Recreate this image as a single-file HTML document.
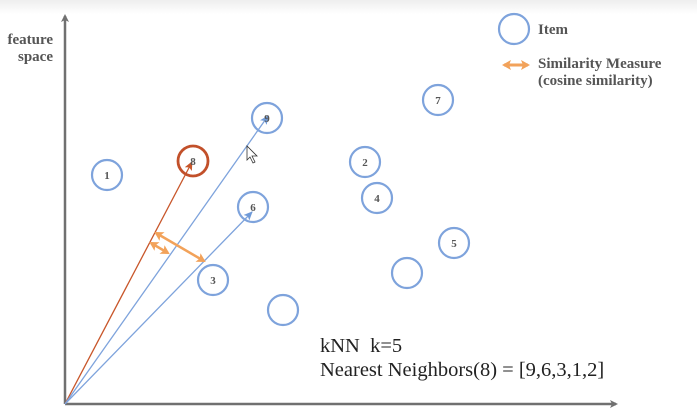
<!DOCTYPE html>
<html><head><meta charset="utf-8"><style>
html,body{margin:0;padding:0;background:#fff;}
svg{display:block;font-family:"Liberation Serif",serif;}
</style></head><body>
<svg id="chart" width="697" height="415" viewBox="0 0 697 415">
<defs>
<linearGradient id="topband" x1="0" y1="0" x2="0" y2="1"><stop offset="0" stop-color="#eeeeee"/><stop offset="1" stop-color="#ffffff"/></linearGradient>
<marker id="axArrow" markerWidth="8" markerHeight="8" refX="6" refY="4" orient="auto" markerUnits="userSpaceOnUse"><path d="M0,0 L8,4 L0,8 L2,4 Z" fill="#707070"/></marker>
<marker id="blueArrow" markerWidth="10" markerHeight="10" refX="8" refY="5" orient="auto" markerUnits="userSpaceOnUse"><path d="M0,1 L9,5 L0,9 L2,5 Z" fill="#6f9ad8"/></marker>
<marker id="redArrow" markerWidth="10" markerHeight="10" refX="8" refY="5" orient="auto" markerUnits="userSpaceOnUse"><path d="M0,1 L9,5 L0,9 L2,5 Z" fill="#c8562a"/></marker>
<marker id="orEnd" markerWidth="10" markerHeight="10" refX="7" refY="5" orient="auto" markerUnits="userSpaceOnUse"><path d="M0,0 L9,5 L0,10 L2,5 Z" fill="#f2a25a"/></marker>
<marker id="orStart" markerWidth="10" markerHeight="10" refX="2" refY="5" orient="auto" markerUnits="userSpaceOnUse"><path d="M9,0 L0,5 L9,10 L7,5 Z" fill="#f2a25a"/></marker>
</defs>
<rect x="0" y="0" width="697" height="14" fill="url(#topband)"/>
<g id="layer"></g>
</svg>
<script>
// item positions (feature-space coordinates)
const itemLabels = ["1","8","9","6","3","","2","4","7","5",""];
const itemX = [42,128,202,188,148,218,300,312,373,389,342];
const itemY = [229,243,286,197,124,94,242,206,304,161,131];
const queryIndex = 1;
const vectorTargets = [1,2,3]; // item indices with vectors from origin
const vectorTipX = [127,203,187];
const vectorTipY = [242,288,192];
const simFromX = [91,86];
const simFromY = [171,161];
const simToX = [139,103];
const simToY = [143,151];

const ox = 65, oy = 404;
const sx = v => ox + v;
const sy = v => oy - v;
const NS = "http://www.w3.org/2000/svg";
const layer = document.getElementById("layer");
function mk(tag, attrs){ const e=document.createElementNS(NS,tag); for(const k in attrs) e.setAttribute(k,attrs[k]); return e; }

const yAxis = mk("line",{x1:ox,y1:oy,x2:ox,y2:16,stroke:"#707070","stroke-width":2.5,"marker-end":"url(#axArrow)"});


layer.appendChild(yAxis);
const xAxis = mk("line",{x1:ox,y1:oy,x2:616,y2:oy,stroke:"#707070","stroke-width":2.5,"marker-end":"url(#axArrow)"});


layer.appendChild(xAxis);

vectorTargets.forEach((idx,i)=>{
  const red = idx===queryIndex;
  const l = mk("line",{x1:ox,y1:oy,x2:sx(vectorTipX[i]),y2:sy(vectorTipY[i]),stroke:red?"#c8562a":"#7ea3dc","stroke-width":1.3,"marker-end":red?"url(#redArrow)":"url(#blueArrow)"});
  
  
  layer.appendChild(l);
});

simFromX.forEach((v,i)=>{
  const l = mk("line",{x1:sx(v),y1:sy(simFromY[i]),x2:sx(simToX[i]),y2:sy(simToY[i]),stroke:"#f2a25a","stroke-width":2.5,"marker-end":"url(#orEnd)","marker-start":"url(#orStart)"});
  
  
  layer.appendChild(l);
});

itemX.forEach((v,i)=>{
  const g = mk("g",{});
  
  
  const red = i===queryIndex;
  g.appendChild(mk("circle",{cx:sx(v),cy:sy(itemY[i]),r:15,fill:"none",stroke:red?"#c2502a":"#7ea3dc","stroke-width":red?2.8:2.2}));
  if(itemLabels[i]){
    const t = mk("text",{x:sx(v),y:sy(itemY[i])+4,"text-anchor":"middle","font-size":11,"font-weight":"bold",fill:"#555"});
    t.textContent = itemLabels[i];
    g.appendChild(t);
  }
  layer.appendChild(g);
});
</script>
<div style="position:absolute;left:0;top:0;width:697px;height:415px;pointer-events:none;">
<svg width="697" height="415" style="font-family:'Liberation Serif',serif;">
<text x="53" y="44" text-anchor="end" font-size="15" font-weight="bold" fill="#555">feature</text>
<text x="53" y="61" text-anchor="end" font-size="15" font-weight="bold" fill="#555">space</text>
<circle cx="514" cy="29" r="15" fill="none" stroke="#7ea3dc" stroke-width="2.2"/>
<text x="538" y="34" font-size="15" font-weight="bold" fill="#555">Item</text>
<line x1="504" y1="65" x2="528" y2="65" stroke="#f2a25a" stroke-width="3" marker-end="url(#orEnd)" marker-start="url(#orStart)"/>
<text x="538" y="68" font-size="15" font-weight="bold" fill="#555">Similarity Measure</text>
<text x="538" y="85" font-size="15" font-weight="bold" fill="#555">(cosine similarity)</text>
<text x="320" y="352" font-size="20.5" fill="#222" xml:space="preserve">kNN  k=5</text>
<text x="320" y="376" font-size="20.5" fill="#222">Nearest Neighbors(8) = [9,6,3,1,2]</text>
<path d="M247,146 L247,160 L250,157 L253,163 L255,162 L252,156 L257,156 Z" fill="#fff" stroke="#333" stroke-width="0.8"/>
</svg></div>
</body></html>
